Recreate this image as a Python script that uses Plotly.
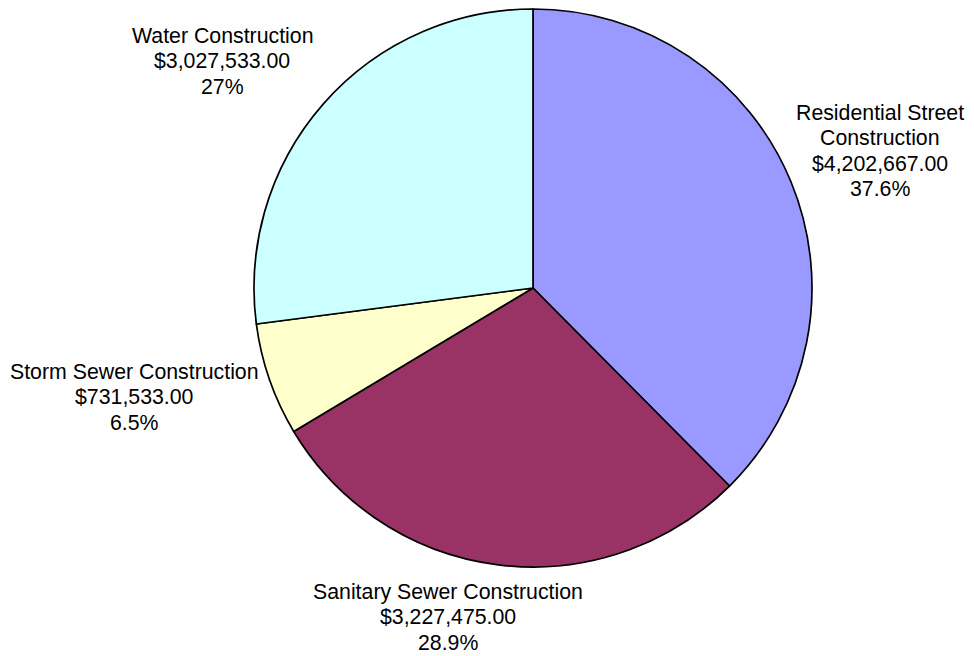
import plotly.graph_objects as go

categories = ["Residential Street<br>Construction", "Sanitary Sewer Construction",
              "Storm Sewer Construction", "Water Construction"]
values = [4202667.00, 3227475.00, 731533.00, 3027533.00]
percent_labels = ["37.6%", "28.9%", "6.5%", "27%"]
colors = ["#9999FF", "#993366", "#FFFFCC", "#CCFFFF"]

# label block centres in page pixels (layout, not data)
label_pos = [(880, 151), (447.5, 617), (134.5, 397), (222, 61)]
LINE_GAP = 25.5

texts = [f"{c}<br>${v:,.2f}<br>{p}" for c, v, p in zip(categories, values, percent_labels)]

OFF = 8  # default page body margin
W, H = 974 - 2 * OFF, 656 - OFF
cx, cy, r = 533 - OFF, 288 - OFF, 279

fig = go.Figure(go.Pie(
    labels=categories,
    values=values,
    textinfo="none",
    sort=False,
    direction="clockwise",
    rotation=0,
    hoverinfo="label+value+percent",
    marker=dict(colors=colors, line=dict(color="#000000", width=1.7)),
    showlegend=False,
    domain=dict(x=[(cx - r) / W, (cx + r) / W], y=[(H - cy - r) / H, (H - cy + r) / H]),
))

for t, (px, py) in zip(texts, label_pos):
    lines = t.split("<br>")
    n = len(lines)
    for i, ln in enumerate(lines):
        ly = py + (i - (n - 1) / 2) * LINE_GAP
        fig.add_annotation(
            x=(px - OFF) / W, y=1 - (ly - OFF) / H, xref="paper", yref="paper",
            text=ln, showarrow=False, xanchor="center", yanchor="middle", align="center",
            font=dict(family="Liberation Sans, Arial, sans-serif", size=21.3, color="#000000"),
        )

fig.update_layout(
    width=W, height=H,
    margin=dict(l=0, r=0, t=0, b=0),
    paper_bgcolor="#FFFFFF",
    plot_bgcolor="#FFFFFF",
)

fig.write_html("out.html")
